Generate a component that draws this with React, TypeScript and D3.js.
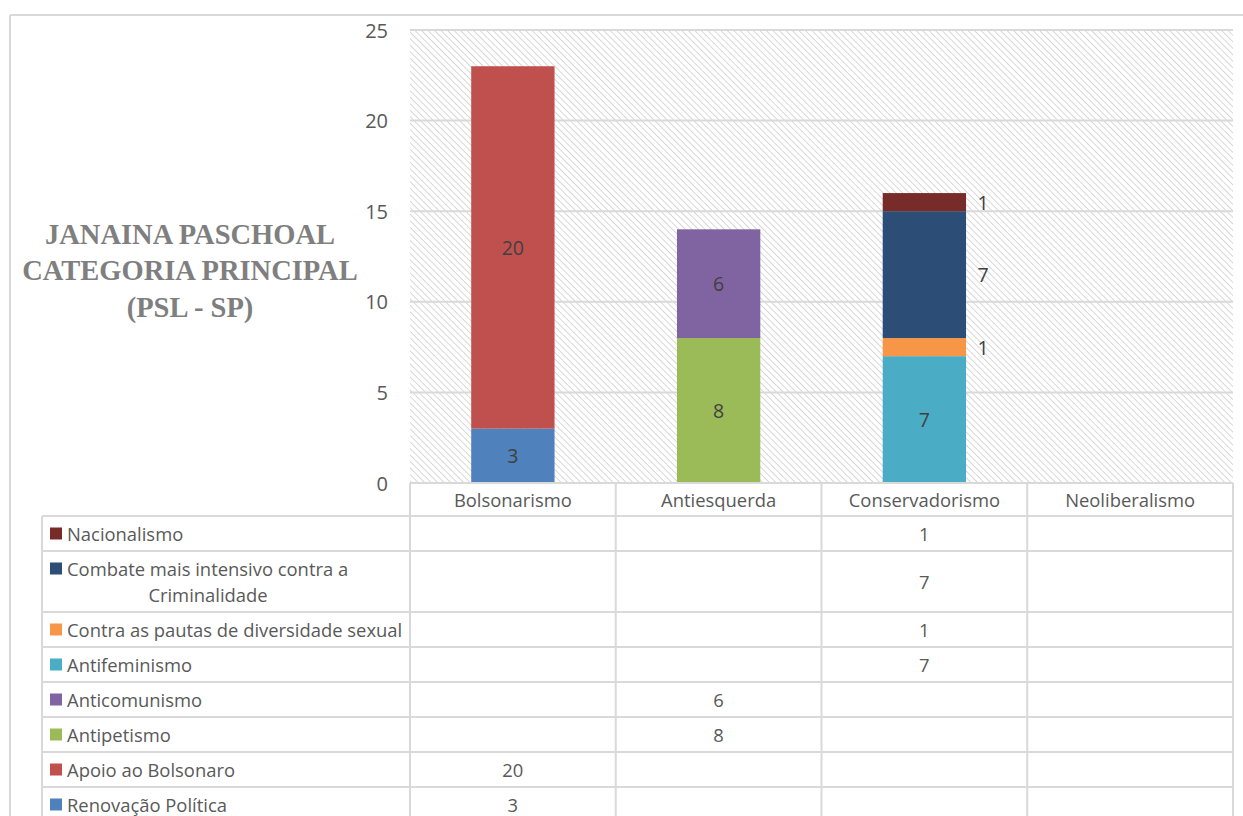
import React from "react";
import * as d3 from "d3";

const categories = ["Bolsonarismo", "Antiesquerda", "Conservadorismo", "Neoliberalismo"];

// series listed bottom-of-stack first
const seriesNames = [
  "Renovação Política",
  "Apoio ao Bolsonaro",
  "Antipetismo",
  "Anticomunismo",
  "Antifeminismo",
  "Contra as pautas de diversidade sexual",
  "Combate mais intensivo contra a Criminalidade",
  "Nacionalismo",
];

const renovacaoPolitica = [3, null, null, null];
const apoioAoBolsonaro = [20, null, null, null];
const antipetismo = [null, 8, null, null];
const anticomunismo = [null, 6, null, null];
const antifeminismo = [null, null, 7, null];
const contraPautas = [null, null, 1, null];
const combateCriminalidade = [null, null, 7, null];
const nacionalismo = [null, null, 1, null];

const seriesValues: (number | null)[][] = [
  renovacaoPolitica,
  apoioAoBolsonaro,
  antipetismo,
  anticomunismo,
  antifeminismo,
  contraPautas,
  combateCriminalidade,
  nacionalismo,
];

const seriesColors = [
  "#4f81bd",
  "#c0504d",
  "#9bbb59",
  "#8064a2",
  "#4bacc6",
  "#f79646",
  "#2c4d75",
  "#772c2a",
];

const yTicks = [0, 5, 10, 15, 20, 25];
const titleLines = ["JANAINA PASCHOAL", "CATEGORIA PRINCIPAL", "(PSL - SP)"];
const outsideLabelSeries = new Set([5, 6, 7]);

const W = 1243;
const H = 816;
const PL = 410;
const PR = 1233;
const PT = 30;
const PB = 483;
const TABLE_LEFT = 42;
const HEADER_BOTTOM = 516;
const GRID = "#d9d9d9";
const TXT = "#595959";
const FONT = "'Open Sans', 'Noto Sans', sans-serif";
const TFS = 18.4;

export default function App() {
  const x = d3.scaleBand<string>().domain(categories).range([PL, PR]).padding(0);
  const y = d3.scaleLinear().domain([0, 25]).range([PB, PT]);
  const barW = x.bandwidth() * 0.405;

  const rows = categories.map((c, ci) => {
    const o: Record<string, number | string> = { category: c };
    seriesNames.forEach((s, si) => (o[s] = seriesValues[si][ci] ?? 0));
    return o;
  });
  const stacked = d3.stack<Record<string, number | string>>().keys(seriesNames)(rows as any);

  // table rows, top to bottom = reverse of stack order
  const tableOrder = seriesNames.map((_, i) => i).reverse();
  const rowHeights = tableOrder.map((i) => (seriesNames[i].length > 40 ? 61 : 35));
  const rowTops: number[] = [];
  let acc = HEADER_BOTTOM;
  rowHeights.forEach((h) => {
    rowTops.push(acc);
    acc += h;
  });

  const colEdges = [PL, ...categories.map((c) => (x(c) as number) + x.bandwidth())];

  return (
    <svg
      width={W}
      height={H}
      style={{ position: "absolute", left: 0, top: 0, background: "#fff" }}
      fontFamily={FONT}
    >
      <defs>
        <pattern
          id="hatch"
          width={4.6}
          height={4.6}
          patternUnits="userSpaceOnUse"
          patternTransform="rotate(-45)"
        >
          <rect width={4.6} height={4.6} fill="#ffffff" />
          <line x1={0} y1={0} x2={0} y2={4.6} stroke="#cfcfcf" strokeWidth={1.6} />
        </pattern>
      </defs>

      {/* outer frame */}
      <line x1={10} y1={15} x2={W} y2={15} stroke={GRID} strokeWidth={2} />
      <line x1={10} y1={15} x2={10} y2={H} stroke={GRID} strokeWidth={2} />

      {/* plot area */}
      <rect x={PL} y={PT} width={PR - PL} height={PB - PT} fill="url(#hatch)" />
      {yTicks.map((t) => (
        <line key={"g" + t} x1={PL} x2={PR} y1={y(t)} y2={y(t)} stroke={GRID} strokeWidth={2} />
      ))}

      {/* y axis labels */}
      {yTicks.map((t) => (
        <text
          key={"yt" + t}
          x={388}
          y={y(t)}
          textAnchor="end"
          dominantBaseline="central"
          fontSize={20}
          fill={TXT}
        >
          {t}
        </text>
      ))}

      {/* bars */}
      {stacked.map((layer, si) =>
        layer.map((d, ci) => {
          const v = d[1] - d[0];
          if (!v) return null;
          const cx = (x(categories[ci]) as number) + x.bandwidth() / 2;
          return (
            <rect
              key={`b${si}-${ci}`}
              x={cx - barW / 2}
              y={y(d[1])}
              width={barW}
              height={y(d[0]) - y(d[1])}
              fill={seriesColors[si]}
            />
          );
        })
      )}

      {/* data labels */}
      {stacked.map((layer, si) =>
        layer.map((d, ci) => {
          const v = d[1] - d[0];
          if (!v) return null;
          const cx = (x(categories[ci]) as number) + x.bandwidth() / 2;
          const outside = outsideLabelSeries.has(si);
          return (
            <text
              key={`l${si}-${ci}`}
              x={outside ? cx + barW / 2 + 17 : cx}
              y={y((d[0] + d[1]) / 2)}
              textAnchor="middle"
              dominantBaseline="central"
              fontSize={19.5}
              fill="#404040"
            >
              {v}
            </text>
          );
        })
      )}

      {/* title */}
      {titleLines.map((t, i) => (
        <text
          key={"t" + i}
          x={190}
          y={234 + i * 36.5}
          textAnchor="middle"
          dominantBaseline="central"
          fontFamily="'Liberation Serif', 'DejaVu Serif', serif"
          fontWeight="bold"
          fontSize={28.5}
          fill="#7f7f7f"
        >
          {t}
        </text>
      ))}

      {/* data table */}
      <g stroke={GRID} strokeWidth={2}>
        <line x1={TABLE_LEFT} x2={PR} y1={HEADER_BOTTOM} y2={HEADER_BOTTOM} />
        <line x1={PL} x2={PR} y1={PB} y2={PB} />
        {rowTops.map((top, r) => (
          <line key={"rl" + r} x1={TABLE_LEFT} x2={PR} y1={top + rowHeights[r]} y2={top + rowHeights[r]} />
        ))}
        <line x1={TABLE_LEFT} x2={TABLE_LEFT} y1={HEADER_BOTTOM} y2={H} />
        {colEdges.map((cx, i) => (
          <line key={"cl" + i} x1={cx} x2={cx} y1={PB} y2={H} />
        ))}
      </g>

      {/* header labels */}
      {categories.map((c) => (
        <text
          key={"h" + c}
          x={(x(c) as number) + x.bandwidth() / 2}
          y={(PB + HEADER_BOTTOM) / 2}
          textAnchor="middle"
          dominantBaseline="central"
          fontSize={TFS}
          fill={TXT}
        >
          {c}
        </text>
      ))}

      {/* row labels with legend keys */}
      {tableOrder.map((si, r) => {
        const top = rowTops[r];
        const h = rowHeights[r];
        const name = seriesNames[si];
        const twoLines = h > 40;
        const line1 = twoLines ? "Combate mais intensivo contra a" : name;
        const line2 = twoLines ? name.replace(line1, "").trim() : "";
        const firstY = twoLines ? top + 17.5 : top + h / 2;
        return (
          <g key={"row" + si}>
            <rect x={50} y={firstY - 6} width={12} height={12} fill={seriesColors[si]} />
            <text x={67} y={firstY} dominantBaseline="central" fontSize={TFS} fill={TXT}>
              {line1}
            </text>
            {twoLines && (
              <text
                x={208}
                y={firstY + 26}
                textAnchor="middle"
                dominantBaseline="central"
                fontSize={TFS}
                fill={TXT}
              >
                {line2}
              </text>
            )}
            {categories.map((c, ci) => {
              const v = seriesValues[si][ci];
              if (v == null) return null;
              return (
                <text
                  key={"v" + ci}
                  x={(x(c) as number) + x.bandwidth() / 2}
                  y={top + h / 2}
                  textAnchor="middle"
                  dominantBaseline="central"
                  fontSize={TFS}
                  fill={TXT}
                >
                  {v}
                </text>
              );
            })}
          </g>
        );
      })}
    </svg>
  );
}
